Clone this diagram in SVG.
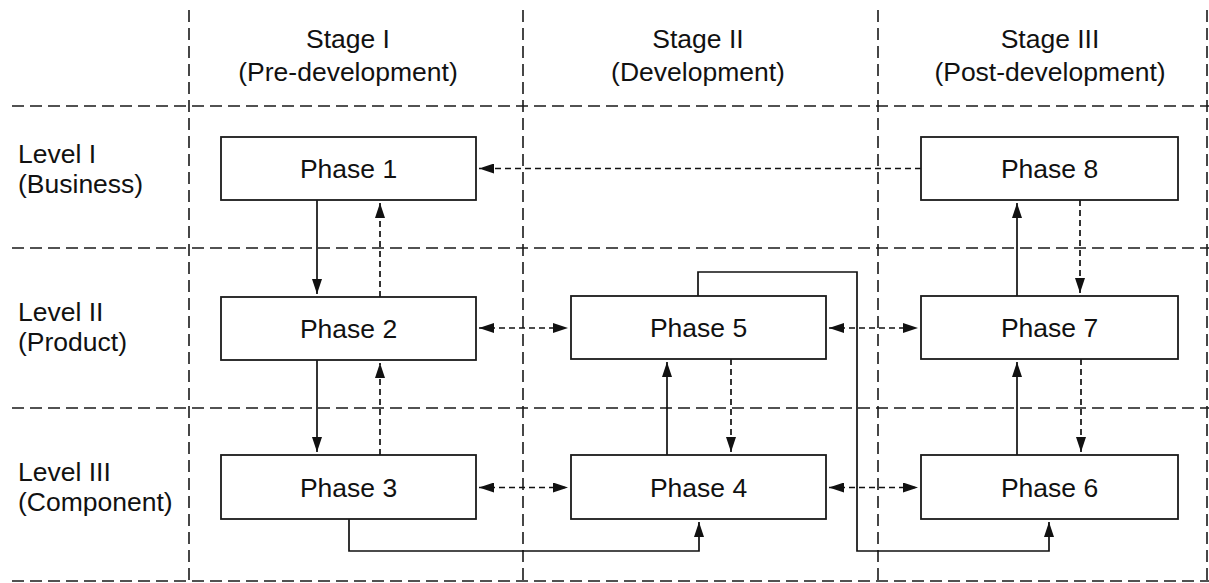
<svg xmlns="http://www.w3.org/2000/svg" width="1209" height="583" viewBox="0 0 1209 583">
<defs>
<marker id="ah" viewBox="0 0 15 10" refX="15" refY="5" markerWidth="15" markerHeight="10" markerUnits="userSpaceOnUse" orient="auto-start-reverse">
<path d="M0,0 L15,5 L0,10 Z" fill="#111"/>
</marker>
<style>
.grid{stroke:#1a1a1a;stroke-width:1.6;stroke-dasharray:12 6;fill:none}
.box{fill:#fff;stroke:#1a1a1a;stroke-width:1.8}
.lbl{font-family:"Liberation Sans",Arial,sans-serif;font-size:26.5px;fill:#111}
.c{text-anchor:middle}
.solid{stroke:#111;stroke-width:1.7;fill:none}
.dash{stroke:#111;stroke-width:1.7;fill:none;stroke-dasharray:6 4}
</style>
</defs>
<rect width="1209" height="583" fill="#fff"/>
<g id="grid">
<line class="grid" x1="189" y1="10" x2="189" y2="583"/>
<line class="grid" x1="523" y1="10" x2="523" y2="583"/>
<line class="grid" x1="878" y1="10" x2="878" y2="583"/>
<line class="grid" x1="1207" y1="10" x2="1207" y2="583"/>
<line class="grid" x1="12" y1="106" x2="1209" y2="106"/>
<line class="grid" x1="12" y1="248" x2="1209" y2="248"/>
<line class="grid" x1="12" y1="408" x2="1209" y2="408"/>
<line class="grid" x1="12" y1="581" x2="1209" y2="581"/>
</g>
<g id="headers">
<text class="lbl c" x="348" y="48">Stage I</text>
<text class="lbl c" x="348" y="81">(Pre-development)</text>
<text class="lbl c" x="698" y="48">Stage II</text>
<text class="lbl c" x="698" y="81">(Development)</text>
<text class="lbl c" x="1050" y="48">Stage III</text>
<text class="lbl c" x="1050" y="81">(Post-development)</text>
<text class="lbl" x="18" y="163">Level I</text>
<text class="lbl" x="18" y="193">(Business)</text>
<text class="lbl" x="18" y="321">Level II</text>
<text class="lbl" x="18" y="351">(Product)</text>
<text class="lbl" x="18" y="481">Level III</text>
<text class="lbl" x="18" y="511">(Component)</text>
</g>
<g id="connectors">
<line class="solid" x1="317" y1="200" x2="317" y2="294" marker-end="url(#ah)"/>
<line class="dash" x1="380" y1="297" x2="380" y2="203" marker-end="url(#ah)"/>
<line class="solid" x1="317" y1="360" x2="317" y2="452" marker-end="url(#ah)"/>
<line class="dash" x1="380" y1="455" x2="380" y2="363" marker-end="url(#ah)"/>
<line class="dash" x1="921" y1="168.5" x2="479" y2="168.5" marker-end="url(#ah)"/>
<line class="dash" x1="479" y1="328" x2="568" y2="328" marker-start="url(#ah)" marker-end="url(#ah)"/>
<line class="dash" x1="829" y1="328" x2="918" y2="328" marker-start="url(#ah)" marker-end="url(#ah)"/>
<line class="dash" x1="479" y1="487.5" x2="568" y2="487.5" marker-start="url(#ah)" marker-end="url(#ah)"/>
<line class="dash" x1="829" y1="487.5" x2="918" y2="487.5" marker-start="url(#ah)" marker-end="url(#ah)"/>
<line class="solid" x1="667" y1="455" x2="667" y2="362" marker-end="url(#ah)"/>
<line class="dash" x1="731" y1="359" x2="731" y2="452" marker-end="url(#ah)"/>
<polyline class="solid" points="349,519 349,551 699,551 699,522" marker-end="url(#ah)"/>
<polyline class="solid" points="698,296 698,272 857,272 857,551 1049,551 1049,522" marker-end="url(#ah)"/>
<line class="solid" x1="1017" y1="455" x2="1017" y2="362" marker-end="url(#ah)"/>
<line class="dash" x1="1081" y1="359" x2="1081" y2="452" marker-end="url(#ah)"/>
<line class="solid" x1="1017" y1="296" x2="1017" y2="203" marker-end="url(#ah)"/>
<line class="dash" x1="1080" y1="200" x2="1080" y2="293" marker-end="url(#ah)"/>
</g>
<g id="phase1"><rect class="box" x="221" y="137" width="255" height="63"/><text class="lbl c" x="348.5" y="178">Phase 1</text></g>
<g id="phase2"><rect class="box" x="221" y="297" width="255" height="63"/><text class="lbl c" x="348.5" y="338">Phase 2</text></g>
<g id="phase3"><rect class="box" x="221" y="455" width="255" height="64"/><text class="lbl c" x="348.5" y="497">Phase 3</text></g>
<g id="phase4"><rect class="box" x="571" y="455" width="255" height="64"/><text class="lbl c" x="698.5" y="497">Phase 4</text></g>
<g id="phase5"><rect class="box" x="571" y="296" width="255" height="63"/><text class="lbl c" x="698.5" y="337">Phase 5</text></g>
<g id="phase6"><rect class="box" x="921" y="455" width="257" height="64"/><text class="lbl c" x="1049.5" y="497">Phase 6</text></g>
<g id="phase7"><rect class="box" x="921" y="296" width="257" height="63"/><text class="lbl c" x="1049.5" y="337">Phase 7</text></g>
<g id="phase8"><rect class="box" x="921" y="137" width="257" height="63"/><text class="lbl c" x="1049.5" y="178">Phase 8</text></g>
</svg>
